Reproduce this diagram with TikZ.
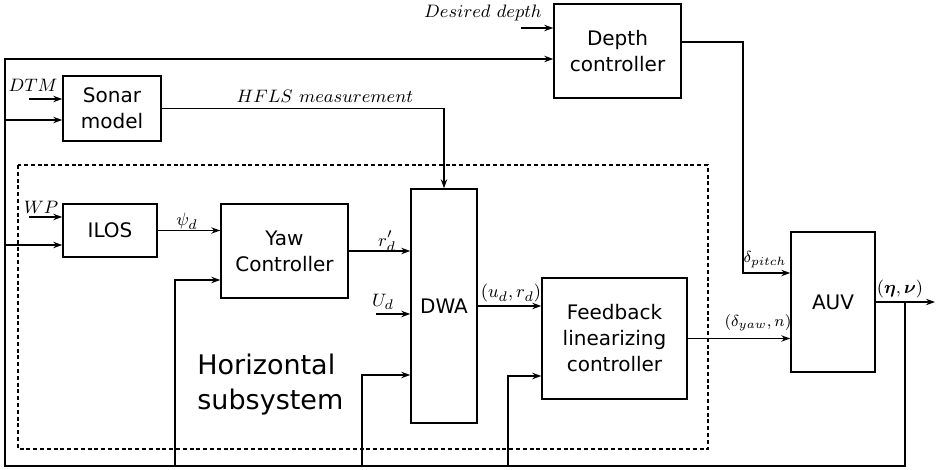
\documentclass[tikz,border=0pt]{standalone}
\usepackage{amsmath}
\usepackage{fontspec}
\setsansfont{DejaVu Sans}
\usetikzlibrary{arrows.meta}

\tikzset{
  blk/.style={draw, line width=0.75pt, align=center, inner sep=0pt,
    font=\sffamily\fontsize{10}{13}\selectfont},
  lbl/.style={inner sep=0pt, font=\fontsize{9.5}{11}\selectfont},
  smalllbl/.style={inner sep=0pt, font=\fontsize{8}{9.5}\selectfont},
  arr/.style={-{Stealth[length=4.5pt,width=3.2pt]}, line width=0.75pt},
}

\begin{document}
\begin{tikzpicture}[x=0.5pt,y=-0.5pt]
\useasboundingbox (0,0) rectangle (939,470);

% subsystem frame
\draw[line width=0.7pt, dash pattern=on 2pt off 1.4pt] (18,165) rectangle (708,449);
\node[anchor=west, align=left, inner sep=0pt, font=\sffamily\fontsize{13.5}{17.5}\selectfont]
  (hsub) at (197,385) {Horizontal\\subsystem};

% blocks
\node[blk, minimum width=49pt, minimum height=32.5pt] (sonar) at (112,108.5) {Sonar\\model};
\node[blk, minimum width=63.5pt, minimum height=47pt] (depth) at (617.5,51) {Depth\\controller};
\node[blk, minimum width=47pt, minimum height=26.5pt] (ilos) at (110,230.5) {ILOS};
\node[blk, minimum width=63.5pt, minimum height=47pt] (yaw) at (284.5,251) {Yaw\\Controller};
\node[blk, minimum width=33pt, minimum height=117pt] (dwa) at (444,306) {DWA};
\node[blk, minimum width=72.5pt, minimum height=60.5pt] (fblc) at (614.5,338.5) {Feedback\\linearizing\\controller};
\node[blk, minimum width=42pt, minimum height=70pt] (auv) at (833,302) {AUV};

% free ends and corners
\coordinate (fbTop) at (5,59);
\coordinate (fbLeft) at (5,466);
\coordinate (fbRight) at (905,302);
\coordinate (output) at (935,302);
\coordinate (sonIn) at (5,120);
\coordinate (ilosIn) at (5,245);
\coordinate (dtmIn) at (29,99);
\coordinate (wpIn) at (29,217);
\coordinate (ddIn) at (521,28);
\coordinate (udIn) at (376,314);
\coordinate (tapYaw) at (175,466);
\coordinate (tapDwa) at (362,466);
\coordinate (tapFb) at (508,466);
\coordinate (pitchCorner) at (743,273);

% signals
\draw[arr] (auv.east) -- (output);
\draw[arr] (fbRight) |- (fbLeft) |- (depth.west |- fbTop);
\draw[arr] (sonIn) -- (sonIn -| sonar.west);
\draw[arr] (ilosIn) -- (ilosIn -| ilos.west);
\draw[arr] (dtmIn) -- (dtmIn -| sonar.west);
\draw[arr] (wpIn) -- (wpIn -| ilos.west);
\draw[arr] (ddIn) -- (ddIn -| depth.west);
\draw[arr] (udIn) -- (udIn -| dwa.west);
\draw[arr] (tapYaw) |- (yaw.west |- 0,280);
\draw[arr] (tapDwa) |- (dwa.west |- 0,375);
\draw[arr] (tapFb) |- (fblc.west |- 0,376);
\draw[arr] (sonar.east) -| (dwa.north);
\draw[arr] (ilos.east) -- (ilos.east -| yaw.west);
\draw[arr] (yaw.east) -- (yaw.east -| dwa.west);
\draw[arr] (dwa.east) -- (dwa.east -| fblc.west);
\draw[arr] (fblc.east) -- (fblc.east -| auv.west);
\draw[arr] (depth.east |- 0,42) -| (pitchCorner) -- (pitchCorner -| auv.west);

% labels
\node[lbl] (ddLbl) at (483,13) {$Desired\ depth$};
\node[lbl] (dtmLbl) at (33,85) {$DTM$};
\node[lbl] (hflsLbl) at (325,96) {$HFLS\ measurement$};
\node[lbl] (wpLbl) at (41,207) {$WP$};
\node[lbl] (psiLbl) at (187,221) {$\psi_d$};
\node[lbl] (rLbl) at (387,241) {$r'_d$};
\node[lbl] (udLbl) at (383,302) {$U_d$};
\node[lbl] (urLbl) at (511,293) {$(u_d,r_d)$};
\node[smalllbl] (pitchLbl) at (765,260) {$\delta_{pitch}$};
\node[smalllbl] (yawLbl) at (758,323) {$(\delta_{yaw},n)$};
\node[lbl] (etaLbl) at (900,289) {$(\boldsymbol{\eta},\boldsymbol{\nu})$};
\end{tikzpicture}
\end{document}
